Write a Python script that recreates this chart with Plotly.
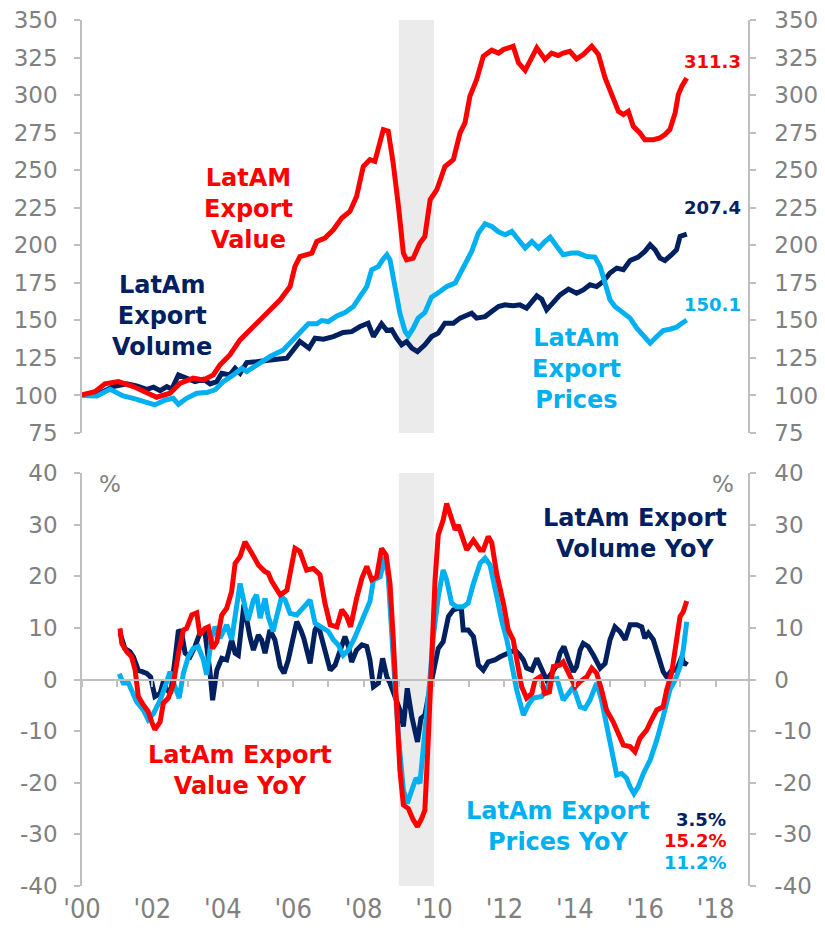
import plotly.graph_objects as go

# ---------------- data (decimal years) ----------------
value_t = [2000.0, 2000.37, 2000.65, 2001.03, 2001.46, 2001.84, 2002.12, 2002.5, 2002.78, 2003.16, 2003.45, 2003.73,
           2003.92, 2004.2, 2004.49, 2004.87, 2005.25, 2005.63, 2005.91, 2006.05, 2006.19, 2006.53, 2006.67, 2006.9,
           2007.14, 2007.38, 2007.61, 2007.8, 2007.99, 2008.18, 2008.32, 2008.47, 2008.56, 2008.7, 2008.84, 2008.99,
           2009.13, 2009.22, 2009.41, 2009.6, 2009.74, 2009.89, 2010.08, 2010.31, 2010.55, 2010.74, 2010.88, 2011.02,
           2011.21, 2011.4, 2011.64, 2011.83, 2011.97, 2012.25, 2012.4, 2012.59, 2012.78, 2012.92, 2013.15, 2013.34,
           2013.53, 2013.67, 2013.86, 2014.05, 2014.24, 2014.48, 2014.67, 2014.86, 2015.05, 2015.24, 2015.38, 2015.52,
           2015.66, 2015.85, 2015.99, 2016.23, 2016.42, 2016.56, 2016.7, 2016.85, 2016.94, 2017.04, 2017.18]
value_v = [100.5, 102.5, 107.7, 109.2, 105.9, 101.5, 98.8, 101.5, 108, 111.5, 110.3, 113.7,
           120.3, 127, 137, 145.9, 154.8, 163.7, 172.5, 185.9, 192.5, 194.8, 202.5, 204.8,
           210.3, 218.1, 222.5, 232.5, 252.5, 257, 255.9, 268, 277, 276, 254.8, 225.9,
           194.8, 190.3, 191.5, 201.5, 205.9, 230.3, 237, 252.5, 257, 274.8, 281.5, 299.2,
           310.3, 325.9, 329.9, 328, 330.3, 332.5, 321.5, 316.5, 324.8, 331.5, 323.7, 328,
           326.3, 328, 329.2, 324.1, 327, 332.5, 327, 311.5, 300.3, 289.2, 287, 289.2,
           279.2, 274.8, 270.3, 270.3, 271.5, 273.7, 277, 288.1, 300.3, 305.9, 311.3]

prices_t = [2000.0, 2000.42, 2000.8, 2001.17, 2001.46, 2001.74, 2002.07, 2002.36, 2002.59, 2002.74, 2002.97, 2003.26,
            2003.54, 2003.78, 2004.01, 2004.3, 2004.54, 2004.68, 2004.96, 2005.34, 2005.72, 2006.1, 2006.43, 2006.67,
            2006.81, 2007.0, 2007.24, 2007.47, 2007.71, 2007.9, 2008.09, 2008.23, 2008.42, 2008.54, 2008.66, 2008.75,
            2008.89, 2009.03, 2009.18, 2009.27, 2009.41, 2009.55, 2009.74, 2009.93, 2010.17, 2010.36, 2010.6, 2010.83,
            2011.07, 2011.26, 2011.45, 2011.64, 2011.83, 2012.02, 2012.21, 2012.4, 2012.59, 2012.78, 2012.97, 2013.15,
            2013.3, 2013.49, 2013.67, 2013.91, 2014.1, 2014.34, 2014.57, 2014.72, 2014.86, 2015.0, 2015.14, 2015.33,
            2015.57, 2015.76, 2015.95, 2016.14, 2016.33, 2016.51, 2016.7, 2016.89, 2017.04, 2017.18]
prices_v = [100, 99.7, 104.1, 99.7, 98.1, 95.9, 93.7, 97, 98.1, 94.1, 98.1, 101.5,
            101.9, 103.7, 109.2, 113.7, 118.1, 115.9, 120.3, 125.9, 130.3, 139.2, 147.7, 147.7,
            149.9, 149.2, 153, 155.2, 159.2, 165.9, 172.5, 183.7, 185.9, 190.3, 193.7, 190.3,
            170.3, 154.8, 142.5, 139.7, 144.8, 151.5, 155.2, 165.5, 169.2, 172.5, 174.8, 184.8,
            195.9, 208.1, 214.3, 212.5, 209, 207, 209.2, 203.7, 198.1, 202.5, 198.1, 202.5,
            205.4, 199.2, 193.7, 194.8, 194.8, 192.5, 192.1, 185.9, 174.8, 163.7, 159.2, 155.9,
            151.5, 144.8, 139.2, 134.8, 139.2, 143.2, 144.1, 145.4, 148.1, 150.1]

volume_t = [2000.0, 2000.51, 2000.89, 2001.27, 2001.55, 2001.84, 2002.03, 2002.22, 2002.41, 2002.55, 2002.74, 2002.97,
            2003.21, 2003.45, 2003.64, 2003.83, 2003.97, 2004.2, 2004.35, 2004.49, 2004.68, 2004.96, 2005.25, 2005.53,
            2005.82, 2006.0, 2006.19, 2006.45, 2006.62, 2006.86, 2007.14, 2007.42, 2007.66, 2007.9, 2008.13, 2008.28,
            2008.51, 2008.66, 2008.8, 2008.94, 2009.08, 2009.22, 2009.37, 2009.53, 2009.74, 2009.93, 2010.12, 2010.31,
            2010.55, 2010.74, 2010.93, 2011.07, 2011.21, 2011.45, 2011.64, 2011.83, 2012.02, 2012.25, 2012.44, 2012.63,
            2012.92, 2013.06, 2013.2, 2013.39, 2013.58, 2013.82, 2014.05, 2014.24, 2014.43, 2014.62, 2014.81, 2015.0,
            2015.19, 2015.38, 2015.57, 2015.8, 2015.99, 2016.14, 2016.28, 2016.42, 2016.56, 2016.75, 2016.89, 2016.99,
            2017.18]
volume_v = [100, 101.5, 105.9, 107.7, 106.3, 104.1, 105.5, 103.2, 105.9, 104.1, 113.7, 111.5,
            109.2, 110.8, 107.7, 109.2, 114.8, 113.7, 118.1, 114.8, 121.9, 122.5, 123.7, 124.1,
            124.8, 130.3, 136, 131.5, 138.1, 137.5, 139.2, 141.9, 142.5, 145.9, 148.1, 139.2,
            147.7, 143.2, 143.7, 138.1, 133.7, 135.9, 131.5, 129.2, 133.7, 139.2, 141.5, 148.1,
            148.1, 151.5, 153, 154.8, 151.5, 152.5, 155.9, 159.2, 160.3, 159.7, 160.3, 158.1,
            166.3, 164.1, 157, 162.5, 167, 170.8, 168.1, 170.3, 173.7, 172.5, 175.9, 181.5,
            184.8, 183.7, 189.9, 192.1, 195.9, 200.3, 197, 191.5, 189.9, 193.7, 197, 205.9,
            207.4]

value_yoy_t = [2001.08, 2001.13, 2001.27, 2001.41, 2001.51, 2001.6, 2001.74, 2001.88, 2001.98, 2002.07, 2002.22, 2002.31,
               2002.45, 2002.59, 2002.74, 2002.88, 2002.97, 2003.12, 2003.26, 2003.35, 2003.49, 2003.59, 2003.71, 2003.83,
               2003.97, 2004.11, 2004.25, 2004.35, 2004.49, 2004.63, 2004.82, 2005.01, 2005.2, 2005.29, 2005.39, 2005.53,
               2005.63, 2005.82, 2006.05, 2006.19, 2006.38, 2006.57, 2006.76, 2006.9, 2007.05, 2007.24, 2007.38, 2007.52,
               2007.63, 2007.8, 2007.95, 2008.09, 2008.23, 2008.37, 2008.51, 2008.64, 2008.75, 2008.84, 2008.94, 2009.03,
               2009.13, 2009.27, 2009.41, 2009.53, 2009.65, 2009.74, 2009.84, 2009.93, 2010.03, 2010.12, 2010.26, 2010.36,
               2010.5, 2010.6, 2010.69, 2010.83, 2010.93, 2011.12, 2011.31, 2011.4, 2011.54, 2011.64, 2011.78, 2011.97,
               2012.11, 2012.25, 2012.4, 2012.49, 2012.63, 2012.78, 2012.87, 2013.01, 2013.15, 2013.28, 2013.39, 2013.58,
               2013.67, 2013.82, 2014.01, 2014.15, 2014.34, 2014.48, 2014.62, 2014.76, 2014.9, 2015.09, 2015.24, 2015.38,
               2015.57, 2015.71, 2015.85, 2016.04, 2016.18, 2016.33, 2016.51, 2016.61, 2016.75, 2016.89, 2016.99, 2017.08,
               2017.18]
value_yoy_v = [9.9, 7.0, 5.4, 4.4, 1.8, -3.3, -4.9, -6.2, -8.2, -9.7, -8.2, -4.6,
               -3.6, -1.1, 5.1, 9.6, 9.9, 12.5, 12.9, 8.6, 9.9, 10.2, 6.0, 7.3,
               12.5, 13.8, 17.0, 22.5, 23.8, 26.7, 24.5, 22.2, 20.9, 20.6, 19.0, 17.7,
               16.4, 17.3, 25.4, 24.8, 21.2, 21.5, 20.3, 14.8, 10.6, 10.2, 13.5, 12.2,
               10.2, 15.7, 19.6, 21.9, 19.3, 19.9, 25.4, 24.1, 18.6, 8.3, -4.6, -17.5,
               -24.3, -25.0, -27.2, -28.5, -26.9, -25.3, -11.1, 5.7, 19.3, 28.0, 30.9, 34.1,
               30.9, 29.0, 29.9, 26.7, 25.1, 27.0, 25.1, 25.1, 27.7, 26.5, 20.5, 14.8,
               9.6, 7.7, 2.5, -1.4, -3.6, -2.7, -0.1, 0.5, -2.7, -2.4, 2.5, 2.8,
               3.4, 1.5, -1.4, -0.4, 0.5, 2.2, 1.2, -2.0, -5.9, -8.2, -10.4, -12.7,
               -13.0, -14.0, -11.4, -9.8, -7.8, -5.9, -5.3, -2.0, 1.2, 7.0, 12.2, 13.1,
               15.2]

prices_yoy_t = [2001.06, 2001.17, 2001.32, 2001.46, 2001.55, 2001.74, 2001.88, 2002.03, 2002.22, 2002.36, 2002.5, 2002.64,
                2002.76, 2002.88, 2003.02, 2003.16, 2003.3, 2003.45, 2003.54, 2003.68, 2003.78, 2003.92, 2004.11, 2004.25,
                2004.35, 2004.49, 2004.63, 2004.72, 2004.87, 2004.96, 2005.06, 2005.2, 2005.29, 2005.43, 2005.53, 2005.67,
                2005.77, 2005.91, 2006.1, 2006.24, 2006.34, 2006.48, 2006.62, 2006.81, 2007.0, 2007.14, 2007.28, 2007.42,
                2007.57, 2007.76, 2007.95, 2008.09, 2008.18, 2008.28, 2008.47, 2008.61, 2008.7, 2008.84, 2008.99, 2009.13,
                2009.24, 2009.37, 2009.49, 2009.6, 2009.74, 2009.89, 2009.98, 2010.12, 2010.26, 2010.36, 2010.5, 2010.64,
                2010.83, 2010.97, 2011.12, 2011.31, 2011.45, 2011.59, 2011.78, 2011.92, 2012.07, 2012.21, 2012.35, 2012.54,
                2012.68, 2012.82, 2013.06, 2013.2, 2013.34, 2013.49, 2013.67, 2013.82, 2013.96, 2014.15, 2014.29, 2014.43,
                2014.62, 2014.76, 2014.9, 2015.05, 2015.19, 2015.33, 2015.47, 2015.57, 2015.68, 2015.8, 2015.95, 2016.14,
                2016.33, 2016.51, 2016.7, 2016.85, 2016.99, 2017.08, 2017.18]
prices_yoy_v = [1.1, -0.7, -0.7, -2.7, -4.3, -5.9, -7.8, -6.6, -4.0, -1.4, 1.5, -1.4,
                -3.6, 1.2, 4.4, 6.0, 6.4, 3.8, 0.9, 8.0, 10.2, 8.0, 10.6, 7.7,
                12.8, 18.6, 14.1, 11.5, 15.4, 16.4, 11.9, 15.7, 12.2, 9.3, 12.2, 16.0,
                15.4, 12.8, 12.5, 13.5, 14.4, 15.4, 10.9, 10.2, 9.3, 7.7, 6.7, 4.7,
                5.7, 8.3, 11.5, 14.1, 15.1, 19.3, 19.9, 23.8, 19.9, 4.4, -11.1, -21.4,
                -24.0, -21.4, -19.1, -20.1, -11.1, 0.5, 8.3, 16.0, 21.2, 19.3, 14.8, 14.1,
                14.1, 14.8, 18.6, 22.5, 23.5, 22.2, 16.2, 11.5, 7.7, 2.5, -2.0, -6.9,
                -4.9, -3.6, -3.3, -1.7, -0.1, 0.2, -4.0, -2.7, -1.4, -5.3, -5.6, -4.0,
                -0.7, -4.0, -9.1, -14.3, -18.5, -18.2, -19.1, -20.8, -22.1, -20.8, -18.2, -15.6,
                -11.7, -7.2, -2.0, -0.1, 2.5, 5.7, 11.2]

volume_yoy_t = [2001.08, 2001.22, 2001.36, 2001.46, 2001.6, 2001.74, 2001.84, 2001.95, 2002.07, 2002.22, 2002.31, 2002.41,
                2002.52, 2002.64, 2002.74, 2002.83, 2002.93, 2003.07, 2003.21, 2003.35, 2003.49, 2003.64, 2003.71, 2003.83,
                2003.97, 2004.11, 2004.25, 2004.35, 2004.44, 2004.6, 2004.68, 2004.77, 2004.87, 2005.01, 2005.1, 2005.2,
                2005.34, 2005.48, 2005.63, 2005.74, 2005.86, 2006.0, 2006.1, 2006.22, 2006.3, 2006.48, 2006.62, 2006.71,
                2006.86, 2007.05, 2007.19, 2007.33, 2007.47, 2007.57, 2007.66, 2007.8, 2007.95, 2008.09, 2008.18, 2008.28,
                2008.42, 2008.54, 2008.66, 2008.75, 2008.89, 2009.03, 2009.13, 2009.24, 2009.37, 2009.53, 2009.63, 2009.74,
                2009.84, 2009.98, 2010.12, 2010.26, 2010.41, 2010.55, 2010.69, 2010.78, 2010.83, 2010.97, 2011.12, 2011.26,
                2011.4, 2011.54, 2011.73, 2011.88, 2011.97, 2012.16, 2012.3, 2012.44, 2012.54, 2012.63, 2012.78, 2012.92,
                2013.06, 2013.2, 2013.34, 2013.49, 2013.58, 2013.69, 2013.82, 2013.96, 2014.05, 2014.15, 2014.24, 2014.38,
                2014.53, 2014.72, 2014.86, 2015.0, 2015.14, 2015.28, 2015.43, 2015.57, 2015.76, 2015.9, 2015.99, 2016.09,
                2016.23, 2016.37, 2016.51, 2016.61, 2016.75, 2016.89, 2017.04, 2017.11, 2017.18]
volume_yoy_v = [9.0, 6.0, 5.4, 4.4, 1.8, 1.5, 1.2, 0.5, -3.3, -2.7, -0.4, -2.0,
                -2.7, 3.8, 9.6, 9.0, 5.1, 4.4, 6.4, 9.0, 9.3, 1.2, -4.0, 1.8,
                4.1, 3.8, 7.7, 5.1, 4.7, 14.5, 10.9, 8.3, 5.7, 8.6, 7.7, 5.1,
                9.6, 7.7, 2.5, 1.2, 3.8, 8.3, 11.2, 9.5, 8.0, 3.1, 9.6, 10.6,
                7.0, 1.8, 2.8, 5.7, 8.3, 6.4, 3.4, 5.7, 6.7, 6.4, 3.8, -1.4,
                -0.7, 4.1, 0.5, -0.7, -3.3, -5.9, -9.1, -1.7, -7.2, -12.1, -7.5, -6.9,
                -3.3, 1.8, 6.0, 7.3, 12.2, 13.5, 13.8, 13.5, 9.6, 9.6, 8.3, 2.8,
                1.8, 3.4, 3.8, 4.4, 4.7, 5.1, 5.7, 4.7, 3.8, 2.2, 1.8, 4.1,
                1.8, -0.1, 1.2, 2.8, 5.1, 6.4, 3.8, 1.5, 2.5, 5.7, 7.0, 6.4,
                4.7, 2.2, 3.1, 7.7, 10.2, 9.3, 7.7, 10.6, 10.6, 10.2, 8.0, 9.0,
                7.7, 4.7, 1.5, 0.5, 1.8, 1.8, 4.4, 2.8, 3.5]

recession = [2009.0, 2010.0]
year_ticks = [2000, 2002, 2004, 2006, 2008, 2010, 2012, 2014, 2016, 2018]
year_labels = ["'00", "'02", "'04", "'06", "'08", "'10", "'12", "'14", "'16", "'18"]
top_ticks = list(range(75, 351, 25))
top_labels = [str(v) for v in top_ticks]
bottom_ticks = list(range(-40, 41, 10))
bottom_labels = [str(v) for v in bottom_ticks]

# ---------------- styling ----------------
RED = "#FF0000"
NAVY = "#002060"
LBLUE = "#00B0F0"
GREY_TXT = "#808080"
GREY_LINE = "#BFBFBF"
BAND = "#EBEBEB"
XR = [2000, 2018.92]
LW = 5
FONT = "DejaVu Sans"

fig = go.Figure()

def line(t, v, color, xa, ya):
    fig.add_trace(go.Scatter(x=t, y=v, mode="lines", line=dict(color=color, width=LW),
                             xaxis=xa, yaxis=ya, showlegend=False, hoverinfo="skip"))

line(volume_t, volume_v, NAVY, "x", "y")
line(prices_t, prices_v, LBLUE, "x", "y")
line(value_t, value_v, RED, "x", "y")
line(volume_yoy_t, volume_yoy_v, NAVY, "x2", "y3")
line(prices_yoy_t, prices_yoy_v, LBLUE, "x2", "y3")
line(value_yoy_t, value_yoy_v, RED, "x2", "y3")

# invisible helpers so the overlay axes render
for xa, ya in [("x", "y2"), ("x2", "y4"), ("x3", "y3")]:
    fig.add_trace(go.Scatter(x=[XR[0]], y=[None], mode="markers", marker=dict(opacity=0),
                             xaxis=xa, yaxis=ya, showlegend=False, hoverinfo="skip"))

# recession shading
for xr, yref in [("x", "y domain"), ("x2", "y3 domain")]:
    fig.add_shape(type="rect", xref=xr, yref=yref,
                  x0=recession[0], x1=recession[1], y0=0, y1=1,
                  fillcolor=BAND, line=dict(width=0), layer="below")

tickfont = dict(family=FONT, size=23, color=GREY_TXT)
yax_common = dict(showgrid=False, zeroline=False, showline=True, linecolor=GREY_LINE, linewidth=1.5,
                  ticks="outside", ticklen=6, tickcolor=GREY_LINE, tickwidth=1.5,
                  tickfont=tickfont, automargin=False, ticklabeloverflow="allow")

# page body adds an 8px offset, so the figure is 8px smaller than the window
W, H = 817, 924
TOP_DOM = [0.5231, 1.0]
BOT_DOM = [0.0, 0.4769]

fig.update_layout(
    width=W, height=H,
    margin=dict(l=74, r=77, t=12, b=46, autoexpand=False),
    paper_bgcolor="white", plot_bgcolor="white",
    xaxis=dict(domain=[0, 1], anchor="y", range=XR, showgrid=False, zeroline=False,
               showline=False, showticklabels=False, ticks="", automargin=False),
    yaxis=dict(domain=TOP_DOM, anchor="x", range=[75, 350], tickvals=top_ticks, ticktext=top_labels,
               ticklabelstandoff=12, **yax_common),
    yaxis2=dict(overlaying="y", side="right", anchor="x", range=[75, 350], tickvals=top_ticks,
                ticktext=top_labels, ticklabelstandoff=14, **yax_common),
    xaxis2=dict(domain=[0, 1], anchor="y3", range=XR, showgrid=False, zeroline=False, showline=False,
                ticks="", tickvals=year_ticks, ticktext=year_labels, automargin=False,
                ticklabeloverflow="allow",
                tickfont=dict(family="DejaVu Sans Condensed, DejaVu Sans", size=27, color=GREY_TXT),
                ticklabelstandoff=4),
    yaxis3=dict(domain=BOT_DOM, anchor="x2", range=[-40, 40], tickvals=bottom_ticks, ticktext=bottom_labels,
                ticklabelstandoff=12, **yax_common),
    yaxis4=dict(overlaying="y3", side="right", anchor="x2", range=[-40, 40], tickvals=bottom_ticks,
                ticktext=bottom_labels, ticklabelstandoff=14, **yax_common),
    xaxis3=dict(overlaying="x2", anchor="free", position=0.23845, range=XR, showgrid=False, zeroline=False,
                showline=True, linecolor=GREY_LINE, linewidth=1.5, ticks="outside", ticklen=7,
                tickcolor=GREY_LINE, tickwidth=1.5, tick0=2000, dtick=1, showticklabels=False,
                automargin=False),
)

def ann(text, x, y, color, size=24, xref="x", yref="y", xanchor="center", align="center", bold=True):
    fig.add_annotation(text=text, x=x, y=y, xref=xref, yref=yref, showarrow=False,
                       xanchor=xanchor, yanchor="middle", align=align,
                       font=dict(family=FONT, size=size, color=color, weight="bold" if bold else "normal"))

# top panel labels
ann("LatAM<br>Export<br>Value", 2004.72, 224.3, RED)
ann("LatAm<br>Export<br>Volume", 2002.27, 153.0, NAVY)
ann("LatAm<br>Export<br>Prices", 2014.06, 117.7, LBLUE)
ann("311.3", 2017.9, 322.3, RED, size=18)
ann("207.4", 2017.9, 225.0, NAVY, size=18)
ann("150.1", 2017.9, 160.3, LBLUE, size=18)

# bottom panel labels
ann("%", 2000.8, 37.9, GREY_TXT, size=23, xref="x2", yref="y3", bold=False)
ann("%", 2018.21, 37.9, GREY_TXT, size=23, xref="x2", yref="y3", bold=False)
ann("LatAm Export<br>Volume YoY", 2015.71, 28.3, NAVY, xref="x2", yref="y3")
ann("LatAm Export<br>Value YoY", 2004.49, -17.6, RED, xref="x2", yref="y3")
ann("LatAm Export<br>Prices YoY", 2013.52, -28.5, LBLUE, xref="x2", yref="y3")
ann("3.5%", 2018.35, -27.2, NAVY, size=18, xref="x2", yref="y3", xanchor="right")
ann("15.2%", 2018.35, -31.1, RED, size=18, xref="x2", yref="y3", xanchor="right")
ann("11.2%", 2018.35, -35.4, LBLUE, size=18, xref="x2", yref="y3", xanchor="right")

fig.write_html("out.html")
